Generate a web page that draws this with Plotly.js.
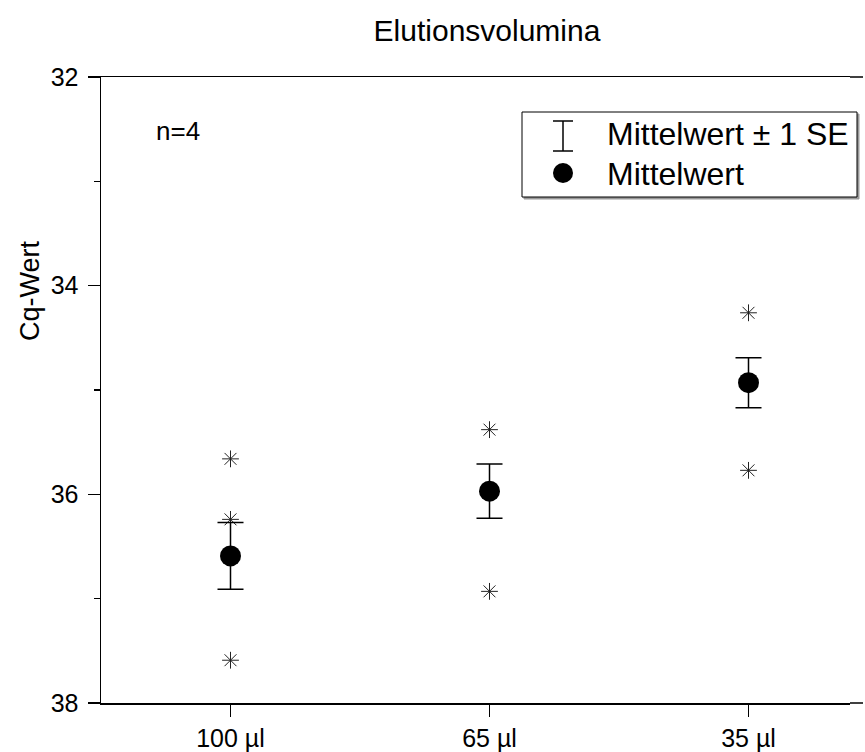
<!DOCTYPE html>
<html>
<head>
<meta charset="utf-8">
<script src="https://cdn.plot.ly/plotly-3.0.1.min.js"></script>
<style>
html,body{margin:0;padding:0;overflow:hidden;background:#fff;}
#chart{width:865px;height:752px;}
</style>
</head>
<body>
<div id="chart"></div>
<script>
// Data
var categories = ['100 µl', '65 µl', '35 µl'];
var meanValues = [36.59, 35.97, 34.93];
var seValues = [0.32, 0.26, 0.24];
var pointCats = ['100 µl', '100 µl', '100 µl', '65 µl', '65 µl', '35 µl', '35 µl'];
var pointValues = [35.66, 36.24, 37.59, 35.38, 36.93, 34.26, 35.77];
var yTickVals = [32, 34, 36, 38];
var yTickText = ['32', '34', '36', '38'];

var W = 865, H = 752;
// plot area pixels; the original frame continues past the right edge of the picture
var L = 101, R = 850, T = 77, B = 703;
var CAT_STEP = 259; // pixel distance between categories
function px(x){ return (x - L) / (R - L); }
function py(y){ return (B - y) / (B - T); }

var FONT = 'Arial, "Liberation Sans", sans-serif';

var traces = [
  {
    type: 'scatter', mode: 'markers',
    x: pointCats, y: pointValues,
    marker: {symbol: 'asterisk-open', size: 14, color: '#222', line: {width: 1, color: '#222'}},
    showlegend: false, hoverinfo: 'y'
  },
  {
    type: 'scatter', mode: 'markers',
    x: categories, y: meanValues,
    error_y: {type: 'data', array: seValues, visible: true, color: '#000', thickness: 1.5, width: 13},
    marker: {symbol: 'circle', size: 21, color: '#000'},
    showlegend: false
  }
];

var shapes = [
  // frame lines continuing toward the picture edge
  {type: 'line', xref: 'paper', yref: 'paper', x0: 1, x1: px(863), y0: 0, y1: 0, line: {color: '#000', width: 1.5}, layer: 'above'},
  {type: 'line', xref: 'paper', yref: 'paper', x0: 1, x1: px(863), y0: 1, y1: 1, line: {color: '#000', width: 1.5}, layer: 'above'},
  // legend shadow and box
  {type: 'rect', xref: 'paper', yref: 'paper', x0: px(524), x1: px(859), y0: py(199), y1: py(114),
   line: {color: '#999', width: 1}, fillcolor: '#999', layer: 'above'},
  {type: 'rect', xref: 'paper', yref: 'paper', x0: px(522), x1: px(857), y0: py(197), y1: py(112),
   line: {color: '#000', width: 1}, fillcolor: '#fff', layer: 'above'},
  // I-beam legend symbol
  {type: 'line', xref: 'paper', yref: 'paper', x0: px(563), x1: px(563), y0: py(121), y1: py(151), line: {color: '#000', width: 1.5}, layer: 'above'},
  {type: 'line', xref: 'paper', yref: 'paper', x0: px(553), x1: px(573), y0: py(121), y1: py(121), line: {color: '#000', width: 1.5}, layer: 'above'},
  {type: 'line', xref: 'paper', yref: 'paper', x0: px(553), x1: px(573), y0: py(151), y1: py(151), line: {color: '#000', width: 1.5}, layer: 'above'},
  // filled circle legend symbol
  {type: 'circle', xref: 'paper', yref: 'paper', x0: px(553), x1: px(573), y0: py(163), y1: py(183),
   line: {color: '#000', width: 0}, fillcolor: '#000', layer: 'above'}
];

var annotations = [
  {text: 'Mittelwert ± 1 SE', xref: 'paper', yref: 'paper', x: px(605), y: py(134), xanchor: 'left', yanchor: 'middle',
   showarrow: false, font: {family: FONT, size: 32, color: '#000'}},
  {text: 'Mittelwert', xref: 'paper', yref: 'paper', x: px(605), y: py(174), xanchor: 'left', yanchor: 'middle',
   showarrow: false, font: {family: FONT, size: 32, color: '#000'}},
  {text: 'n=4', xref: 'paper', yref: 'paper', x: px(178), y: py(131), xanchor: 'center', yanchor: 'middle',
   showarrow: false, font: {family: FONT, size: 26, color: '#000'}},
  {text: 'Cq-Wert', xref: 'paper', yref: 'paper', x: px(30), y: py(291), xanchor: 'center', yanchor: 'middle',
   textangle: -90, showarrow: false, font: {family: FONT, size: 27, color: '#000'}}
];

var layout = {
  width: W, height: H,
  margin: {l: L, r: W - R, t: T, b: H - B, pad: 0},
  paper_bgcolor: '#fff', plot_bgcolor: '#fff',
  font: {family: FONT, color: '#000'},
  title: {text: 'Elutionsvolumina', x: 487 / W, xref: 'container', xanchor: 'center', y: 1 - 30 / H, yref: 'container', yanchor: 'middle',
          font: {family: FONT, size: 30, color: '#000'}},
  showlegend: false,
  xaxis: {
    type: 'category', range: [-0.5, -0.5 + (R - L) / CAT_STEP],
    showline: true, linecolor: '#000', linewidth: 1.5, mirror: true,
    showgrid: false, zeroline: false,
    ticks: 'outside', ticklen: 12, tickwidth: 1.5, tickcolor: '#000',
    tickfont: {family: FONT, size: 25, color: '#000'}
  },
  yaxis: {
    range: [38, 32], autorange: false,
    showline: true, linecolor: '#000', linewidth: 1.5, mirror: false,
    showgrid: false, zeroline: false,
    tickmode: 'array', tickvals: yTickVals, ticktext: yTickText,
    ticks: 'outside', ticklen: 12, tickwidth: 1.5, tickcolor: '#000',
    ticklabelstandoff: 4,
    minor: {tickmode: 'linear', tick0: 32, dtick: 1, ticks: 'outside', ticklen: 6, tickwidth: 1.5, tickcolor: '#000', showgrid: false},
    tickfont: {family: FONT, size: 25, color: '#000'}
  },
  shapes: shapes,
  annotations: annotations
};

Plotly.newPlot('chart', traces, layout, {displayModeBar: false, staticPlot: true});
</script>
</body>
</html>
